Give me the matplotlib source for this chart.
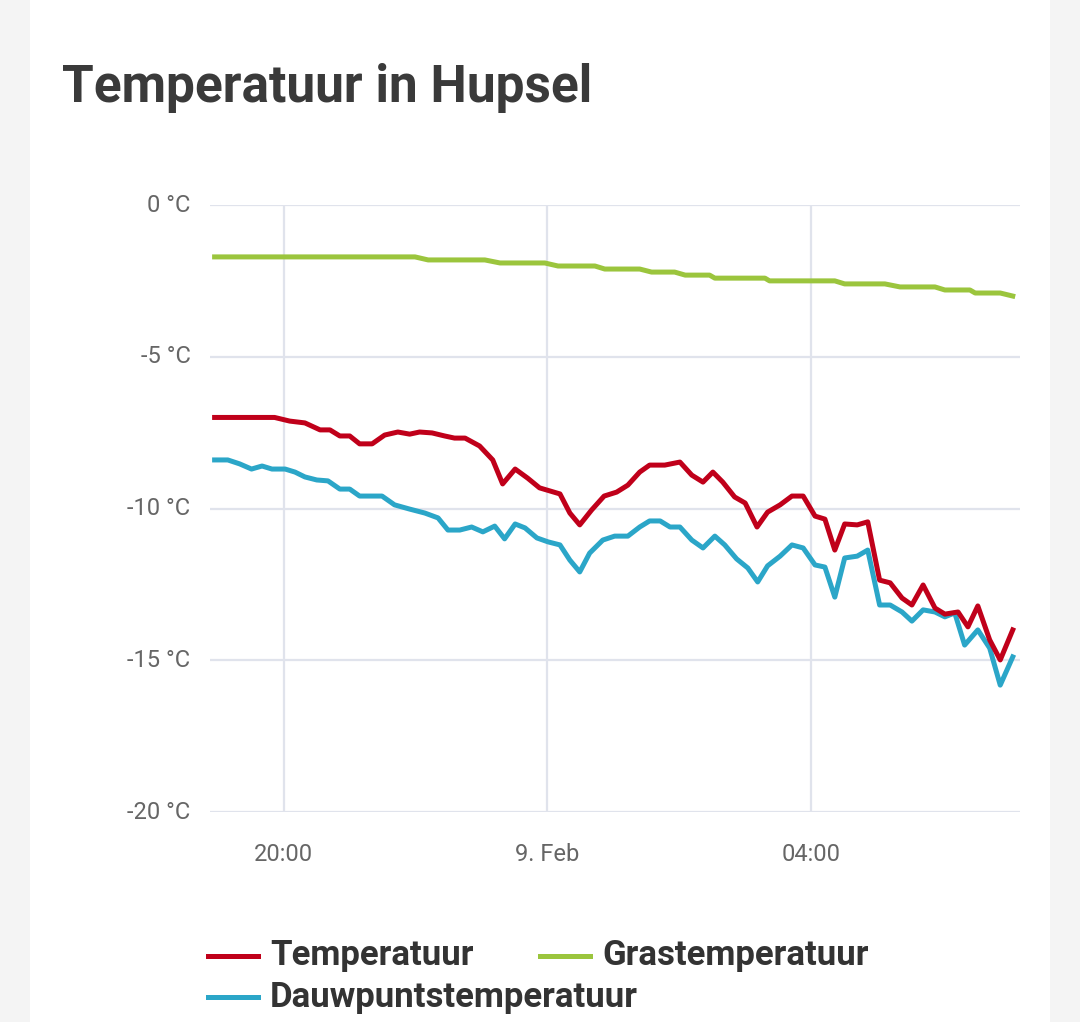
import matplotlib
matplotlib.use("Agg")
import matplotlib.pyplot as plt
from matplotlib.lines import Line2D
from matplotlib.patches import Rectangle

plt.rcParams["font.family"] = ["Roboto", "DejaVu Sans"]

# hours since 8 Feb 00:00
temp_h = [18.95, 19.86, 20.09, 20.32, 20.55, 20.70, 20.85, 21.0, 21.15, 21.34, 21.53, 21.73,
          21.91, 22.06, 22.25, 22.44, 22.59, 22.75, 22.97, 23.17, 23.32, 23.51, 23.70, 23.88,
          24.19, 24.34, 24.49, 24.67, 24.86, 25.05, 25.22, 25.40, 25.55, 25.78, 26.01, 26.19,
          26.36, 26.51, 26.66, 26.84, 27.0, 27.18, 27.34, 27.53, 27.71, 27.88, 28.06, 28.21,
          28.36, 28.51, 28.70, 28.86, 29.04, 29.20, 29.38, 29.53, 29.70, 29.88, 30.03, 30.23,
          30.38, 30.53, 30.71, 30.87, 31.06]
temp_v = [-7.0, -7.0, -7.12, -7.18, -7.41, -7.41, -7.61, -7.61, -7.87, -7.87, -7.58, -7.48,
          -7.55, -7.48, -7.51, -7.61, -7.68, -7.68, -7.94, -8.40, -9.19, -8.70, -9.0, -9.32,
          -9.52, -10.15, -10.54, -10.05, -9.59, -9.46, -9.23, -8.80, -8.57, -8.57, -8.47, -8.90,
          -9.13, -8.80, -9.13, -9.62, -9.82, -10.61, -10.12, -9.88, -9.59, -9.59, -10.25, -10.35,
          -11.37, -10.51, -10.54, -10.44, -12.36, -12.45, -12.95, -13.18, -12.52, -13.28, -13.48, -13.41,
          -13.90, -13.21, -14.33, -14.99, -14.0]

dew_h = [18.95, 19.15, 19.33, 19.51, 19.67, 19.82, 20.02, 20.17, 20.32, 20.50, 20.67, 20.85,
         21.0, 21.15, 21.49, 21.68, 21.91, 22.14, 22.34, 22.49, 22.67, 22.85, 23.02, 23.20,
         23.35, 23.51, 23.66, 23.84, 24.01, 24.19, 24.34, 24.49, 24.64, 24.84, 25.02, 25.22,
         25.40, 25.55, 25.71, 25.86, 26.01, 26.19, 26.36, 26.54, 26.69, 26.87, 27.04, 27.19,
         27.34, 27.53, 27.71, 27.88, 28.06, 28.21, 28.36, 28.51, 28.70, 28.86, 29.04, 29.20,
         29.38, 29.53, 29.70, 29.88, 30.03, 30.18, 30.33, 30.53, 30.71, 30.87, 31.06]
dew_v = [-8.40, -8.40, -8.53, -8.70, -8.60, -8.70, -8.70, -8.80, -8.96, -9.06, -9.09, -9.36,
         -9.36, -9.59, -9.59, -9.88, -10.02, -10.15, -10.31, -10.71, -10.71, -10.61, -10.77, -10.58,
         -11.0, -10.51, -10.64, -10.97, -11.10, -11.2, -11.7, -12.09, -11.47, -11.04, -10.91, -10.91,
         -10.61, -10.41, -10.41, -10.61, -10.61, -11.04, -11.30, -10.91, -11.20, -11.66, -11.96, -12.42,
         -11.89, -11.57, -11.20, -11.30, -11.86, -11.93, -12.92, -11.63, -11.57, -11.37, -13.18, -13.18,
         -13.41, -13.71, -13.34, -13.41, -13.57, -13.44, -14.50, -14.0, -14.60, -15.82, -14.89]

gras_h = [18.95, 21.99, 22.19, 23.05, 23.28, 23.96, 24.16, 24.72, 24.87, 25.40, 25.58, 25.93,
          26.09, 26.46, 26.54, 27.30, 27.37, 28.36, 28.51, 29.12, 29.35, 29.88, 30.03, 30.41,
          30.49, 30.87, 31.06]
gras_v = [-1.71, -1.71, -1.81, -1.81, -1.91, -1.91, -2.01, -2.01, -2.11, -2.11, -2.21, -2.21,
          -2.31, -2.31, -2.41, -2.41, -2.50, -2.50, -2.60, -2.60, -2.70, -2.70, -2.80, -2.80,
          -2.90, -2.90, -3.0]

x_ticks = [20, 24, 28]
x_labels = ["20:00", "9. Feb", "04:00"]
y_ticks = [0, -5, -10, -15, -20]
y_labels = ["0 °C", "-5 °C", "-10 °C", "-15 °C", "-20 °C"]

RED, GREEN, BLUE = "#c0001a", "#9bc53d", "#2ba6c8"

fig = plt.figure(figsize=(10.8, 10.22), dpi=100, facecolor="#f4f4f4")
fig.patches.append(Rectangle((30 / 1080, 0), 1020 / 1080, 1, transform=fig.transFigure,
                             facecolor="white", edgecolor="none", zorder=-10))
fig.text(62 / 1080, 1 - 88 / 1022, "Temperatuur in Hupsel", fontsize=37, fontweight="bold",
         color="#3a3a3a", va="center", ha="left")

ax = fig.add_axes([210 / 1080, 1 - 812 / 1022, 810 / 1080, 607 / 1022], zorder=5)
ax.set_facecolor("none")
ax.plot(gras_h, gras_v, color=GREEN, lw=3.6, solid_joinstyle="round")
ax.plot(dew_h, dew_v, color=BLUE, lw=3.6, solid_joinstyle="round")
ax.plot(temp_h, temp_v, color=RED, lw=3.6, solid_joinstyle="round")
ax.set_xlim(18.88, 31.17)
ax.set_ylim(-20, 0)
ax.set_xticks(x_ticks, x_labels)
ax.set_yticks(y_ticks, y_labels)
ax.grid(True, color="#e0e3ec", lw=1.6)
ax.set_axisbelow(True)
for s in ax.spines.values():
    s.set_visible(False)
ax.tick_params(length=0, labelsize=17, colors="#666666", pad=14)
ax.tick_params(axis="x", pad=22)
ax.axhline(-20, color="#ccd6eb", lw=1.8, zorder=0)
for lab in ax.get_yticklabels():
    lab.set_verticalalignment("center")

# legend placed by hand
items = [(208, 956, RED, "Temperatuur"), (540, 956, GREEN, "Grastemperatuur"),
         (208, 997, BLUE, "Dauwpuntstemperatuur")]
for x0, y0, c, name in items:
    fig.add_artist(Line2D([x0 / 1080, (x0 + 50) / 1080], [1 - y0 / 1022] * 2,
                          transform=fig.transFigure, color=c, lw=3.6))
    fig.text((x0 + 62) / 1080, 1 - y0 / 1022, name, fontsize=25, fontweight="bold",
             color="#333333", va="center", ha="left")

fig.savefig("out.png", dpi=100, facecolor=fig.get_facecolor())
